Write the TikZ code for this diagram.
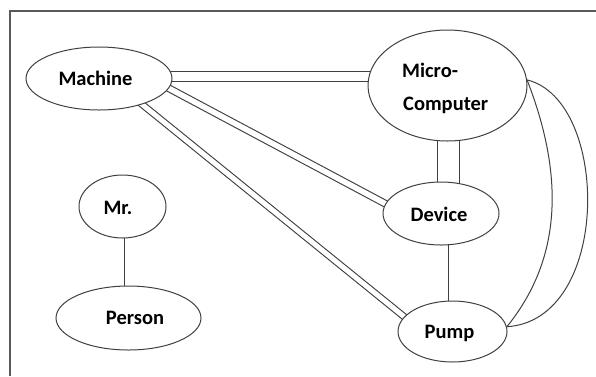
\documentclass[tikz,border=0pt]{standalone}
\usepackage{fontspec}
\setmainfont{Carlito}
\usetikzlibrary{shapes.geometric,backgrounds}
\definecolor{ln}{HTML}{404040}
\tikzset{
  ell/.style={ellipse, draw=ln, line width=1pt, fill=white, inner sep=0pt},
  lbl/.style={font=\bfseries\fontsize{20.5}{24}\selectfont, inner sep=0pt, text=black},
  conn/.style={draw=ln, line width=1pt},
  dbl/.style={draw=ln, line width=1.1pt, double=white},
}
\begin{document}
\begin{tikzpicture}[x=1pt,y=-1pt]
\useasboundingbox (0,0) rectangle (596,376);
% frame
\draw[gray!70!black, line width=1.6pt] (10,376) -- (10,11) -- (596,11);
% ellipses
\node[ell, minimum width=146pt, minimum height=63pt] (m) at (99,78.5) {};
\node[ell, minimum width=159pt, minimum height=111pt] (mc) at (447.5,85.5) {};
\node[ell, minimum width=87pt, minimum height=63pt] (mr) at (122.5,206.5) {};
\node[ell, minimum width=145pt, minimum height=64pt] (pe) at (128.5,318) {};
\node[ell, minimum width=116pt, minimum height=63pt] (d) at (441,213.5) {};
\node[ell, minimum width=109pt, minimum height=61pt] (p) at (452.5,331.5) {};
% labels
\node[lbl, anchor=base] (tm) at (95.5,85) {Machine};
\node[lbl, anchor=base west] (tmc1) at (402,77) {Micro-};
\node[lbl, anchor=base west] (tmc2) at (403,110) {Computer};
\node[lbl, anchor=base] (tmr) at (118,214) {Mr.};
\node[lbl, anchor=base] (tpe) at (135,324) {Person};
\node[lbl, anchor=base] (td) at (439,221) {Device};
\node[lbl, anchor=base] (tp) at (449.5,338) {Pump};
% connectors
\begin{scope}[on background layer]
\draw[dbl, double distance=9.6pt] ([yshift=2pt]m.center) -- ([yshift=2pt]m.center -| mc.center);
\draw[dbl, double distance=21pt] ([xshift=1pt]mc.center) -- ([xshift=1pt]mc.center |- d.center);
\draw[dbl, double distance=5.5pt, shorten <=-4pt, shorten >=-4pt] (m.-8) -- (d.170);
\draw[dbl, double distance=5pt, shorten <=-4pt, shorten >=-4pt] (m.-31) -- (p.163);
\draw[conn] ([xshift=7pt]d.center) -- ([xshift=7pt]d.center |- p.center);
\draw[conn] ([xshift=1.5pt]mr.center) -- ([xshift=1.5pt]mr.center |- pe.center);
\end{scope}
\draw[conn] (mc.4) .. controls (562,170) and (565,255) .. (p.5);
\draw[conn] (mc.4) .. controls (610,100) and (612,320) .. (p.5);
\end{tikzpicture}
\end{document}
